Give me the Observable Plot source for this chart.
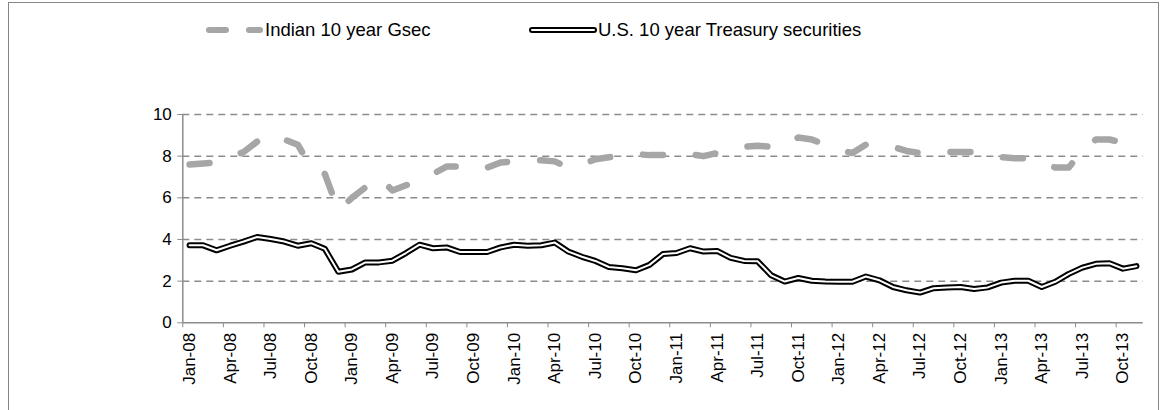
<!DOCTYPE html>
<html>
<head>
<meta charset="utf-8">
<script src="https://cdn.jsdelivr.net/npm/d3@7"></script>
<script src="https://cdn.jsdelivr.net/npm/@observablehq/plot@0.6"></script>
<style>
  html, body { margin: 0; padding: 0; background: #fff; }
  #wrap { position: relative; width: 1165px; height: 410px; overflow: hidden; font-family: "Liberation Sans", Arial, sans-serif; }
  #frame { position: absolute; left: 8px; top: 2px; width: 1151px; height: 420px; border: 1px solid #868686; box-sizing: border-box; }
  #legend { position: absolute; left: 0; top: 0; width: 1165px; height: 60px; }
  .item { position: absolute; top: 19px; height: 22px; display: flex; align-items: center; font-size: 18.5px; color: #000; white-space: nowrap; }
  #chart { position: absolute; left: 0; top: 60px; }
</style>
</head>
<body>
<div id="wrap">
  <div id="frame"></div>
  <div id="legend">
    <div class="item" style="left:203px">
      <svg width="62" height="22"><line x1="6" y1="11" x2="57" y2="11" stroke="#a6a6a6" stroke-width="6" stroke-linecap="round" stroke-dasharray="17,23"/></svg>
      <span id="lg1"></span>
    </div>
    <div class="item" style="left:528px">
      <svg width="70" height="22"><line x1="4" y1="11" x2="66" y2="11" stroke="#000" stroke-width="6" stroke-linecap="round"/><line x1="4" y1="11" x2="66" y2="11" stroke="#fff" stroke-width="2" stroke-linecap="round"/></svg>
      <span id="lg2"></span>
    </div>
  </div>
  <div id="chart"></div>
</div>
<script>
const seriesNames = ["Indian 10 year Gsec", "U.S. 10 year Treasury securities"];

const months = [
  "Jan-08","Feb-08","Mar-08","Apr-08","May-08","Jun-08","Jul-08","Aug-08","Sep-08","Oct-08","Nov-08","Dec-08",
  "Jan-09","Feb-09","Mar-09","Apr-09","May-09","Jun-09","Jul-09","Aug-09","Sep-09","Oct-09","Nov-09","Dec-09",
  "Jan-10","Feb-10","Mar-10","Apr-10","May-10","Jun-10","Jul-10","Aug-10","Sep-10","Oct-10","Nov-10","Dec-10",
  "Jan-11","Feb-11","Mar-11","Apr-11","May-11","Jun-11","Jul-11","Aug-11","Sep-11","Oct-11","Nov-11","Dec-11",
  "Jan-12","Feb-12","Mar-12","Apr-12","May-12","Jun-12","Jul-12","Aug-12","Sep-12","Oct-12","Nov-12","Dec-12",
  "Jan-13","Feb-13","Mar-13","Apr-13","May-13","Jun-13","Jul-13","Aug-13","Sep-13","Oct-13","Nov-13"
];

const indian = [
  7.60, 7.65, 7.70, 7.95, 8.20, 8.70, 9.05, 8.80, 8.55, 7.45, 7.15, 5.40,
  6.00, 6.50, 7.00, 6.35, 6.60, 6.85, 7.15, 7.50, 7.50, 7.60, 7.45, 7.70,
  7.75, 7.80, 7.80, 7.75, 7.45, 7.60, 7.85, 7.95, 8.00, 8.10, 8.05, 8.05,
  8.15, 8.10, 8.00, 8.15, 8.35, 8.45, 8.50, 8.45, 8.45, 8.90, 8.80, 8.55,
  8.30, 8.15, 8.55, 8.60, 8.45, 8.25, 8.15, 8.20, 8.20, 8.20, 8.20, 8.10,
  7.95, 7.90, 7.90, 7.75, 7.45, 7.45, 8.30, 8.80, 8.80, 8.65, 8.80
];

const us = [
  3.72, 3.72, 3.48, 3.70, 3.90, 4.12, 4.02, 3.90, 3.70, 3.82, 3.55, 2.45,
  2.56, 2.90, 2.90, 2.98, 3.35, 3.75, 3.58, 3.62, 3.40, 3.40, 3.40, 3.62,
  3.75, 3.70, 3.72, 3.85, 3.42, 3.17, 2.97, 2.68, 2.62, 2.52, 2.78, 3.30,
  3.35, 3.58, 3.42, 3.45, 3.12, 2.97, 2.95, 2.28, 1.98, 2.15, 2.02, 1.98,
  1.97, 1.97, 2.22, 2.04, 1.72, 1.56, 1.45, 1.66, 1.70, 1.72, 1.62, 1.70,
  1.93, 2.02, 2.02, 1.72, 1.97, 2.35, 2.65, 2.83, 2.86, 2.60, 2.72
];

const yTicks = [0, 2, 4, 6, 8, 10];
const xTickLabels = ["Jan-08","Apr-08","Jul-08","Oct-08","Jan-09","Apr-09","Jul-09","Oct-09",
  "Jan-10","Apr-10","Jul-10","Oct-10","Jan-11","Apr-11","Jul-11","Oct-11",
  "Jan-12","Apr-12","Jul-12","Oct-12","Jan-13","Apr-13","Jul-13","Oct-13"];

document.getElementById("lg1").textContent = seriesNames[0];
document.getElementById("lg2").textContent = seriesNames[1];

const data = months.map((m, i) => ({i, m, indian: indian[i], us: us[i]}));
const labelIdx = xTickLabels.map(l => months.indexOf(l));
const boundaries = labelIdx.map(i => i - 0.5);
const grid = "#8c8c8c";

const chart = Plot.plot({
  width: 1165,
  height: 350,
  marginTop: 54,
  marginBottom: 87.7,
  marginLeft: 182.3,
  marginRight: 22.3,
  style: {fontFamily: "Liberation Sans, Arial, sans-serif", fontSize: "17px", background: "transparent", color: "#000"},
  x: {type: "linear", domain: [-0.5, months.length - 0.5]},
  y: {domain: [0, 10]},
  marks: [
    Plot.ruleY(yTicks.filter(d => d > 0), {stroke: grid, strokeWidth: 1.5, strokeDasharray: "7,5"}),
    Plot.ruleY([0], {stroke: grid, strokeWidth: 1.5}),
    Plot.ruleX([-0.5], {stroke: grid, strokeWidth: 1.5}),
    Plot.axisY({ticks: yTicks, tickSize: 5, tickPadding: 6, stroke: grid, fill: "#000", label: null, fontSize: 17}),
    Plot.axisX({ticks: boundaries, tickSize: 5, tickFormat: () => "", stroke: grid, label: null}),
    Plot.axisX({ticks: labelIdx, tickSize: 0, tickPadding: 10, tickRotate: -90, tickFormat: i => months[i], fill: "#000", label: null, fontSize: 17}),
    Plot.line(data, {x: "i", y: "indian", stroke: "#a6a6a6", strokeWidth: 6.5, strokeDasharray: "20,33", strokeLinecap: "round", strokeLinejoin: "round"}),
    Plot.line(data, {x: "i", y: "us", stroke: "#000", strokeWidth: 6, strokeLinejoin: "round", strokeLinecap: "round"}),
    Plot.line(data, {x: "i", y: "us", stroke: "#fff", strokeWidth: 2, strokeLinejoin: "round", strokeLinecap: "round"})
  ]
});
document.getElementById("chart").appendChild(chart);
</script>
</body>
</html>
